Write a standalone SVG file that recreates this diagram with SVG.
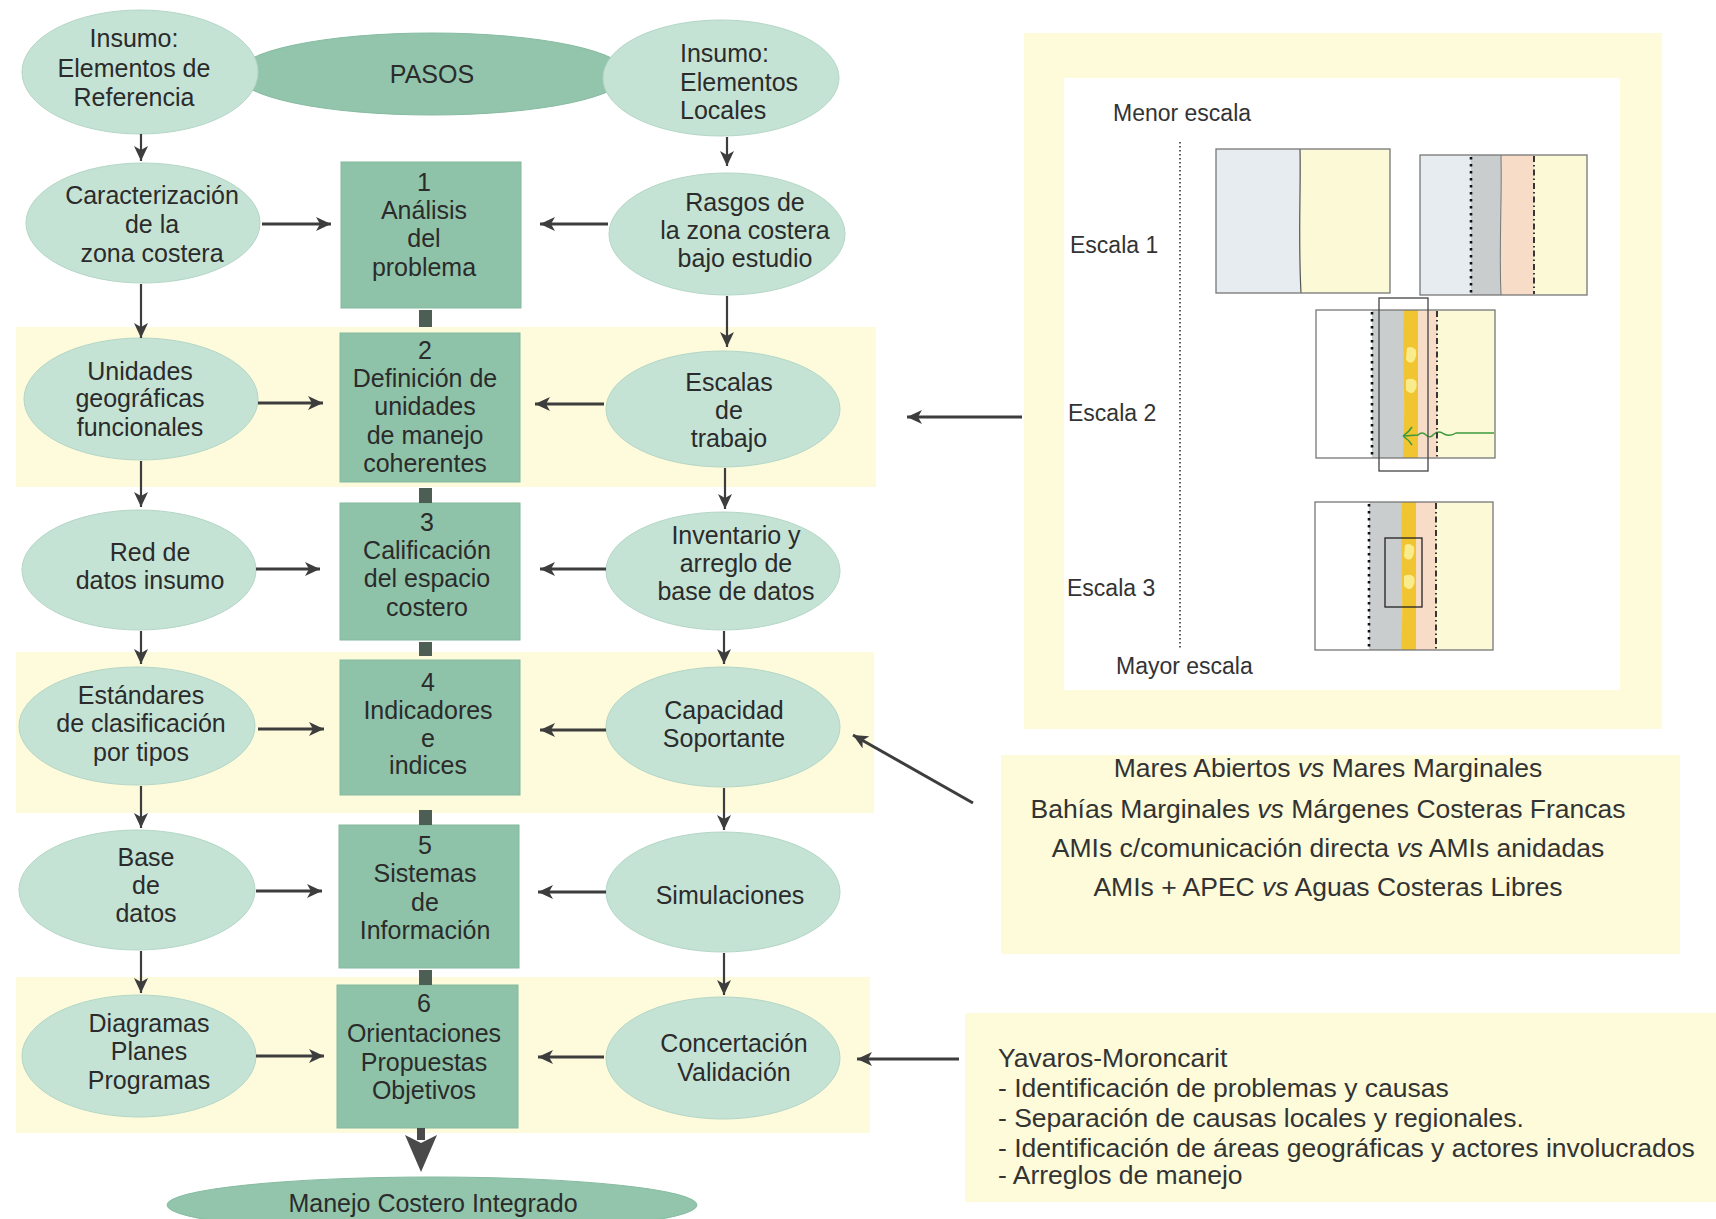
<svg xmlns="http://www.w3.org/2000/svg" width="1716" height="1219" viewBox="0 0 1716 1219">
  <style>
    .band { fill: #fdfbdc; }
    .note { fill: #fdfbd9; }
    .oval { fill: #c5e3d5; stroke: #b3d6c6; stroke-width: 1; }
    .oval-dark { fill: #92c5ac; stroke: #86bba1; stroke-width: 1; }
    .step { fill: #8fc3a9; stroke: #84b99e; stroke-width: 1; }
    .stub { fill: #4d5e55; }
    .t { font-family: "Liberation Sans", Arial, sans-serif; font-size: 25px; fill: #2b2b2b; text-anchor: middle; }
    .tl { font-family: "Liberation Sans", Arial, sans-serif; font-size: 25px; fill: #2b2b2b; }
    .p { font-family: "Liberation Sans", Arial, sans-serif; font-size: 23px; fill: #333; }
    .n { font-family: "Liberation Sans", Arial, sans-serif; font-size: 26.5px; fill: #333; }
    .nc { text-anchor: middle; }
    .arr { stroke: #3d3d3d; fill: none; marker-end: url(#ah); }
    .h { stroke-width: 3; }
    .v { stroke-width: 2.2; }
    .frame { fill: none; stroke: #777; stroke-width: 1.3; }
    .dots { stroke: #111; stroke-width: 2.6; stroke-dasharray: 2.5 4.5; fill: none; }
    .dashdot { stroke: #222; stroke-width: 1.8; stroke-dasharray: 6 3 1.5 3; fill: none; }
  </style>
  <defs>
    <marker id="ah" markerUnits="userSpaceOnUse" markerWidth="16" markerHeight="14" refX="15" refY="7" orient="auto">
      <path d="M0,0 L15,7 L0,14 L4,7 z" fill="#3d3d3d"/>
    </marker>
  </defs>

  <rect width="1716" height="1219" fill="#ffffff"/>

  <!-- highlighted rows -->
  <g id="bands">
    <rect class="band" x="16" y="327" width="860" height="160"/>
    <rect class="band" x="16" y="652" width="858" height="161"/>
    <rect class="band" x="16" y="977" width="854" height="156"/>
  </g>

  <!-- scale panel -->
  <g id="scale-panel">
    <rect class="note" x="1024" y="33" width="638" height="696"/>
    <rect x="1064" y="78" width="556" height="612" fill="#ffffff"/>
    <text class="p" x="1113" y="121">Menor escala</text>
    <text class="p" x="1070" y="253">Escala 1</text>
    <text class="p" x="1068" y="421">Escala 2</text>
    <text class="p" x="1067" y="596">Escala 3</text>
    <text class="p" x="1116" y="674">Mayor escala</text>
    <line x1="1180" y1="142" x2="1180" y2="650" stroke="#333" stroke-width="1.6" stroke-dasharray="1.5 2.5"/>

    <!-- scale 1, left -->
    <rect x="1216" y="149" width="84" height="144" fill="#e6ecef"/>
    <rect x="1300" y="149" width="90" height="144" fill="#fcfad6"/>
    <path d="M1300,149 C1301,190 1298,235 1301,293" stroke="#555" stroke-width="1.2" fill="none"/>
    <rect class="frame" x="1216" y="149" width="174" height="144"/>

    <!-- scale 1, right -->
    <rect x="1420" y="155" width="51" height="140" fill="#e6ecef"/>
    <rect x="1471" y="155" width="30" height="140" fill="#c9cdce"/>
    <rect x="1501" y="155" width="33" height="140" fill="#f7ddc8"/>
    <rect x="1534" y="155" width="53" height="140" fill="#fcfad6"/>
    <path d="M1501,155 C1502,200 1499,250 1501,295" stroke="#777" stroke-width="1" fill="none"/>
    <line class="dots" x1="1471" y1="157" x2="1471" y2="294"/>
    <line class="dashdot" x1="1534" y1="156" x2="1534" y2="294"/>
    <rect class="frame" x="1420" y="155" width="167" height="140"/>

    <!-- scale 2 -->
    <rect x="1316" y="310" width="56" height="148" fill="#ffffff"/>
    <rect x="1372" y="310" width="32" height="148" fill="#c9cdce"/>
    <path d="M1404,310 C1402,350 1406,400 1403,458 L1418,458 L1418,310 z" fill="#f1c431"/>
    <rect x="1418" y="310" width="19" height="148" fill="#f7ddc8"/>
    <rect x="1437" y="310" width="58" height="148" fill="#fcfad6"/>
    <path d="M1407,348 q5,-3 9,2 q1,8 -3,12 q-5,2 -7,-3 z M1406,380 q6,-3 10,1 q2,6 -2,11 q-4,3 -8,-2 z" fill="#f9ec8c"/>
    <path d="M1403,436 q6,-4 9,-9 M1403,436 q6,4 9,9 M1403,436 L1418,435 q4,-4 8,0 q4,4 8,-1 q5,-4 10,0 q6,3 12,-1 L1494,433" stroke="#3c9a3c" stroke-width="1.5" fill="none"/>
    <line class="dots" x1="1372" y1="312" x2="1372" y2="457"/>
    <line class="dashdot" x1="1437" y1="311" x2="1437" y2="457"/>
    <rect class="frame" x="1316" y="310" width="179" height="148"/>
    <rect x="1379" y="298" width="49" height="173" fill="none" stroke="#444" stroke-width="1.3"/>

    <!-- scale 3 -->
    <rect x="1315" y="502" width="54" height="148" fill="#ffffff"/>
    <rect x="1369" y="502" width="33" height="148" fill="#c9cdce"/>
    <path d="M1402,502 C1400,550 1404,600 1401,650 L1416,650 L1416,502 z" fill="#f1c431"/>
    <rect x="1416" y="502" width="20" height="148" fill="#f7ddc8"/>
    <rect x="1436" y="502" width="57" height="148" fill="#fcfad6"/>
    <path d="M1405,545 q5,-3 9,2 q1,8 -3,12 q-5,2 -7,-3 z M1404,576 q6,-3 10,1 q2,6 -2,11 q-4,3 -8,-2 z" fill="#f9ec8c"/>
    <line class="dots" x1="1369" y1="504" x2="1369" y2="649"/>
    <line class="dashdot" x1="1436" y1="503" x2="1436" y2="649"/>
    <rect class="frame" x="1315" y="502" width="178" height="148"/>
    <rect x="1385" y="538" width="37" height="69" fill="none" stroke="#222" stroke-width="1.3"/>
  </g>

  <!-- comparison notes -->
  <g id="note-mares">
    <rect class="note" x="1001" y="755" width="679" height="199"/>
    <text class="n nc" x="1328" y="777">Mares Abiertos <tspan font-style="italic">vs</tspan> Mares Marginales</text>
    <text class="n nc" x="1328" y="818">Bahías Marginales <tspan font-style="italic">vs</tspan> Márgenes Costeras Francas</text>
    <text class="n nc" x="1328" y="857">AMIs c/comunicación directa <tspan font-style="italic">vs</tspan> AMIs anidadas</text>
    <text class="n nc" x="1328" y="896">AMIs + APEC <tspan font-style="italic">vs</tspan> Aguas Costeras Libres</text>
  </g>

  <g id="note-yavaros">
    <rect class="note" x="965" y="1013" width="751" height="189"/>
    <text class="n" x="998" y="1067">Yavaros-Moroncarit</text>
    <text class="n" x="998" y="1097">- Identificación de problemas y causas</text>
    <text class="n" x="998" y="1127">- Separación de causas locales y regionales.</text>
    <text class="n" x="998" y="1157">- Identificación de áreas geográficas y actores involucrados</text>
    <text class="n" x="998" y="1184">- Arreglos de manejo</text>
  </g>

  <!-- header -->
  <g id="pasos">
    <ellipse class="oval-dark" cx="432" cy="74" rx="195" ry="41"/>
    <text class="t" x="432" y="83">PASOS</text>
  </g>
  <g id="insumo-referencia">
    <ellipse class="oval" cx="140" cy="72" rx="118" ry="62"/>
    <text class="t" x="134" y="47">Insumo:</text>
    <text class="t" x="134" y="77">Elementos de</text>
    <text class="t" x="134" y="106">Referencia</text>
  </g>
  <g id="insumo-locales">
    <ellipse class="oval" cx="721" cy="78" rx="118" ry="58"/>
    <text class="tl" x="680" y="62">Insumo:</text>
    <text class="tl" x="680" y="91">Elementos</text>
    <text class="tl" x="680" y="119">Locales</text>
  </g>

  <!-- left column -->
  <g id="caracterizacion">
    <ellipse class="oval" cx="143" cy="223" rx="117" ry="60"/>
    <text class="t" x="152" y="204">Caracterización</text>
    <text class="t" x="152" y="233">de la</text>
    <text class="t" x="152" y="262">zona costera</text>
  </g>
  <g id="unidades-geograficas">
    <ellipse class="oval" cx="141" cy="399" rx="117" ry="61"/>
    <text class="t" x="140" y="380">Unidades</text>
    <text class="t" x="140" y="407">geográficas</text>
    <text class="t" x="140" y="436">funcionales</text>
  </g>
  <g id="red-datos">
    <ellipse class="oval" cx="139" cy="570" rx="117" ry="60"/>
    <text class="t" x="150" y="561">Red de</text>
    <text class="t" x="150" y="589">datos insumo</text>
  </g>
  <g id="estandares">
    <ellipse class="oval" cx="137" cy="726" rx="118" ry="59"/>
    <text class="t" x="141" y="704">Estándares</text>
    <text class="t" x="141" y="732">de clasificación</text>
    <text class="t" x="141" y="761">por tipos</text>
  </g>
  <g id="base-datos">
    <ellipse class="oval" cx="137" cy="890" rx="118" ry="60"/>
    <text class="t" x="146" y="866">Base</text>
    <text class="t" x="146" y="894">de</text>
    <text class="t" x="146" y="922">datos</text>
  </g>
  <g id="diagramas">
    <ellipse class="oval" cx="139" cy="1056" rx="117" ry="61"/>
    <text class="t" x="149" y="1032">Diagramas</text>
    <text class="t" x="149" y="1060">Planes</text>
    <text class="t" x="149" y="1089">Programas</text>
  </g>

  <!-- steps -->
  <g id="paso-1">
    <rect class="step" x="341" y="162" width="180" height="146"/>
    <text class="t" x="424" y="191">1</text>
    <text class="t" x="424" y="219">Análisis</text>
    <text class="t" x="424" y="247">del</text>
    <text class="t" x="424" y="276">problema</text>
  </g>
  <g id="paso-2">
    <rect class="step" x="340" y="333" width="180" height="149"/>
    <text class="t" x="425" y="359">2</text>
    <text class="t" x="425" y="387">Definición de</text>
    <text class="t" x="425" y="415">unidades</text>
    <text class="t" x="425" y="444">de manejo</text>
    <text class="t" x="425" y="472">coherentes</text>
  </g>
  <g id="paso-3">
    <rect class="step" x="340" y="503" width="180" height="137"/>
    <text class="t" x="427" y="531">3</text>
    <text class="t" x="427" y="559">Calificación</text>
    <text class="t" x="427" y="587">del espacio</text>
    <text class="t" x="427" y="616">costero</text>
  </g>
  <g id="paso-4">
    <rect class="step" x="340" y="660" width="180" height="135"/>
    <text class="t" x="428" y="691">4</text>
    <text class="t" x="428" y="719">Indicadores</text>
    <text class="t" x="428" y="747">e</text>
    <text class="t" x="428" y="774">indices</text>
  </g>
  <g id="paso-5">
    <rect class="step" x="339" y="825" width="180" height="143"/>
    <text class="t" x="425" y="854">5</text>
    <text class="t" x="425" y="882">Sistemas</text>
    <text class="t" x="425" y="911">de</text>
    <text class="t" x="425" y="939">Información</text>
  </g>
  <g id="paso-6">
    <rect class="step" x="337" y="985" width="181" height="143"/>
    <text class="t" x="424" y="1012">6</text>
    <text class="t" x="424" y="1042">Orientaciones</text>
    <text class="t" x="424" y="1071">Propuestas</text>
    <text class="t" x="424" y="1099">Objetivos</text>
  </g>

  <!-- right column -->
  <g id="rasgos">
    <ellipse class="oval" cx="727" cy="234" rx="118" ry="61"/>
    <text class="t" x="745" y="211">Rasgos de</text>
    <text class="t" x="745" y="239">la zona costera</text>
    <text class="t" x="745" y="267">bajo estudio</text>
  </g>
  <g id="escalas">
    <ellipse class="oval" cx="723" cy="409" rx="117" ry="58"/>
    <text class="t" x="729" y="391">Escalas</text>
    <text class="t" x="729" y="419">de</text>
    <text class="t" x="729" y="447">trabajo</text>
  </g>
  <g id="inventario">
    <ellipse class="oval" cx="723" cy="571" rx="117" ry="59"/>
    <text class="t" x="736" y="544">Inventario y</text>
    <text class="t" x="736" y="572">arreglo de</text>
    <text class="t" x="736" y="600">base de datos</text>
  </g>
  <g id="capacidad">
    <ellipse class="oval" cx="723" cy="727" rx="117" ry="60"/>
    <text class="t" x="724" y="719">Capacidad</text>
    <text class="t" x="724" y="747">Soportante</text>
  </g>
  <g id="simulaciones">
    <ellipse class="oval" cx="723" cy="892" rx="117" ry="60"/>
    <text class="t" x="730" y="904">Simulaciones</text>
  </g>
  <g id="concertacion">
    <ellipse class="oval" cx="723" cy="1058" rx="117" ry="61"/>
    <text class="t" x="734" y="1052">Concertación</text>
    <text class="t" x="734" y="1081">Validación</text>
  </g>

  <g id="manejo-costero">
    <ellipse class="oval-dark" cx="432" cy="1205" rx="265" ry="28"/>
    <text class="t" x="433" y="1212">Manejo Costero Integrado</text>
  </g>

  <!-- connectors -->
  <g id="connectors">
    <!-- left column, downward -->
    <line class="arr v" x1="141" y1="134" x2="141" y2="161"/>
    <line class="arr v" x1="141" y1="284" x2="141" y2="338"/>
    <line class="arr v" x1="141" y1="461" x2="141" y2="507"/>
    <line class="arr v" x1="141" y1="631" x2="141" y2="664"/>
    <line class="arr v" x1="141" y1="786" x2="141" y2="828"/>
    <line class="arr v" x1="141" y1="951" x2="141" y2="993"/>
    <!-- right column, downward -->
    <line class="arr v" x1="727" y1="137" x2="727" y2="166"/>
    <line class="arr v" x1="727" y1="296" x2="727" y2="347"/>
    <line class="arr v" x1="725" y1="468" x2="725" y2="509"/>
    <line class="arr v" x1="724" y1="631" x2="724" y2="664"/>
    <line class="arr v" x1="724" y1="788" x2="724" y2="830"/>
    <line class="arr v" x1="724" y1="953" x2="724" y2="995"/>
    <!-- left column into steps -->
    <line class="arr h" x1="262" y1="224" x2="331" y2="224"/>
    <line class="arr h" x1="258" y1="403" x2="323" y2="403"/>
    <line class="arr h" x1="256" y1="569" x2="320" y2="569"/>
    <line class="arr h" x1="258" y1="729" x2="324" y2="729"/>
    <line class="arr h" x1="256" y1="891" x2="322" y2="891"/>
    <line class="arr h" x1="256" y1="1056" x2="324" y2="1056"/>
    <!-- right column into steps -->
    <line class="arr h" x1="608" y1="224" x2="540" y2="224"/>
    <line class="arr h" x1="604" y1="404" x2="535" y2="404"/>
    <line class="arr h" x1="606" y1="569" x2="540" y2="569"/>
    <line class="arr h" x1="606" y1="730" x2="540" y2="730"/>
    <line class="arr h" x1="606" y1="892" x2="538" y2="892"/>
    <line class="arr h" x1="604" y1="1057" x2="538" y2="1057"/>
    <!-- step links -->
    <rect class="stub" x="419" y="310" width="13" height="17"/>
    <rect class="stub" x="419" y="488" width="13" height="15"/>
    <rect class="stub" x="419" y="642" width="13" height="14"/>
    <rect class="stub" x="419" y="810" width="13" height="15"/>
    <rect class="stub" x="419" y="970" width="13" height="15"/>
    <!-- final step to integrated management -->
    <rect x="417" y="1128" width="8" height="12" fill="#4a4a4a"/>
    <polygon points="405,1135 421,1143 437,1135 421,1172" fill="#4a4a4a"/>
    <!-- side panels -->
    <line class="arr h" x1="1022" y1="417" x2="907" y2="417"/>
    <line class="arr h" x1="973" y1="803" x2="853" y2="735"/>
    <line class="arr h" x1="959" y1="1059" x2="857" y2="1059"/>
  </g>
</svg>
